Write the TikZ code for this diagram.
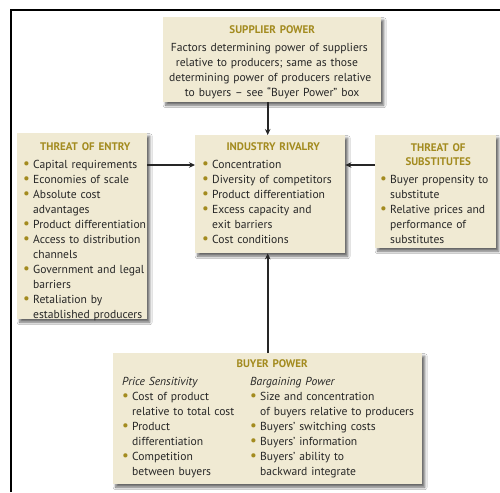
\documentclass[tikz,border=0pt]{standalone}
\usepackage{fontspec}
\setmainfont{PT Sans}
\usetikzlibrary{shadows.blur,arrows.meta}
\definecolor{boxfill}{HTML}{F0EAD3}
\definecolor{gold}{HTML}{A38B1F}
\definecolor{bodytext}{HTML}{262626}
% bullet item with hanging indent
\newcommand\bitem[1]{\par\hangindent=10pt\hangafter=1\noindent
  \makebox[10pt][l]{\textcolor{gold}{\raisebox{-0.12ex}{\fontsize{15}{0}\selectfont\textbullet}}}#1\par}
% box heading
\newcommand\boxtitle[1]{{\centering\bfseries\color{gold}\fontsize{11}{14}\selectfont #1\par}\vspace{3pt}}
\tikzset{
  forcebox/.style={fill=boxfill, draw=none, anchor=north west, inner sep=0pt,
    blur shadow={shadow xshift=2.5pt, shadow yshift=-3pt, shadow blur radius=2.5pt,
      shadow blur steps=6, shadow opacity=60}},
  txt/.style={anchor=north west, inner sep=0pt, text width=#1, align=left,
    font=\fontsize{11.6}{15}\selectfont, text=bodytext},
  arr/.style={-{Stealth[length=6pt,width=5.5pt]}, line width=1.6pt, draw=black!85}
}
\begin{document}
\begin{tikzpicture}[x=1pt,y=-1pt]
\useasboundingbox (0,0) rectangle (500,492);
\fill[white] (0,0) rectangle (500,492);
% page frame
\draw[line width=1.4pt] (11,492) -- (11,10) -- (500,10);

% the five boxes
\node[forcebox, minimum width=218pt, minimum height=85pt] (sup) at (163,17) {};
\node[forcebox, minimum width=130pt, minimum height=186pt] (entry) at (17,133) {};
\node[forcebox, minimum width=150pt, minimum height=118pt] (riv) at (195,135) {};
\node[forcebox, minimum width=121pt, minimum height=113pt] (sub) at (375,135) {};
\node[forcebox, minimum width=309pt, minimum height=131pt] (buy) at (113,353) {};

% box contents
\node[txt=214pt, anchor=north] (sup-t) at ([yshift=-8pt]sup.north)
  {\boxtitle{SUPPLIER POWER}{\centering Factors determining power of suppliers\newline
   relative to producers; same as those\newline
   determining power of producers relative\newline
   to buyers -- see “Buyer Power” box\par}};

\node[txt=124pt] (entry-t) at ([xshift=6pt,yshift=-9pt]entry.north west)
  {\boxtitle{THREAT OF ENTRY}%
   \bitem{Capital requirements}
   \bitem{Economies of scale}
   \bitem{Absolute cost\newline advantages}
   \bitem{Product differentiation}
   \bitem{Access to distribution\newline channels}
   \bitem{Government and legal\newline barriers}
   \bitem{Retaliation by\newline established producers}};

\node[txt=142pt] (riv-t) at ([xshift=7pt,yshift=-7pt]riv.north west)
  {\boxtitle{INDUSTRY RIVALRY}%
   \bitem{Concentration}
   \bitem{Diversity of competitors}
   \bitem{Product differentiation}
   \bitem{Excess capacity and\newline exit barriers}
   \bitem{Cost conditions}};

\node[txt=116pt] (sub-t) at ([xshift=5pt,yshift=-8pt]sub.north west)
  {\boxtitle{THREAT OF\\SUBSTITUTES}%
   \bitem{Buyer propensity to\newline substitute}
   \bitem{Relative prices and\newline performance of\newline substitutes}};

\node[txt=300pt] (buy-t) at ([xshift=9pt,yshift=-6pt]buy.north west)
  {\boxtitle{BUYER POWER}%
   \begin{minipage}[t]{128pt}\raggedright
   \textit{Price Sensitivity}
   \bitem{Cost of product\newline relative to total cost}
   \bitem{Product\newline differentiation}
   \bitem{Competition\newline between buyers}
   \end{minipage}%
   \begin{minipage}[t]{172pt}\raggedright
   \textit{Bargaining Power}
   \bitem{Size and concentration\newline of buyers relative to producers}
   \bitem{Buyers’ switching costs}
   \bitem{Buyers’ information}
   \bitem{Buyers’ ability to\newline backward integrate}
   \end{minipage}};

% forces acting on industry rivalry
\draw[arr] (sup.south -| buy.north) -- (riv.north -| buy.north);
\draw[arr] (buy.north) -- (riv.south -| buy.north);
\draw[arr] ([yshift=-32pt]entry.north east) -- ([yshift=-30pt]riv.north west);
\draw[arr] ([yshift=-30pt]sub.north west) -- ([yshift=-30pt]riv.north east);
\end{tikzpicture}
\end{document}
